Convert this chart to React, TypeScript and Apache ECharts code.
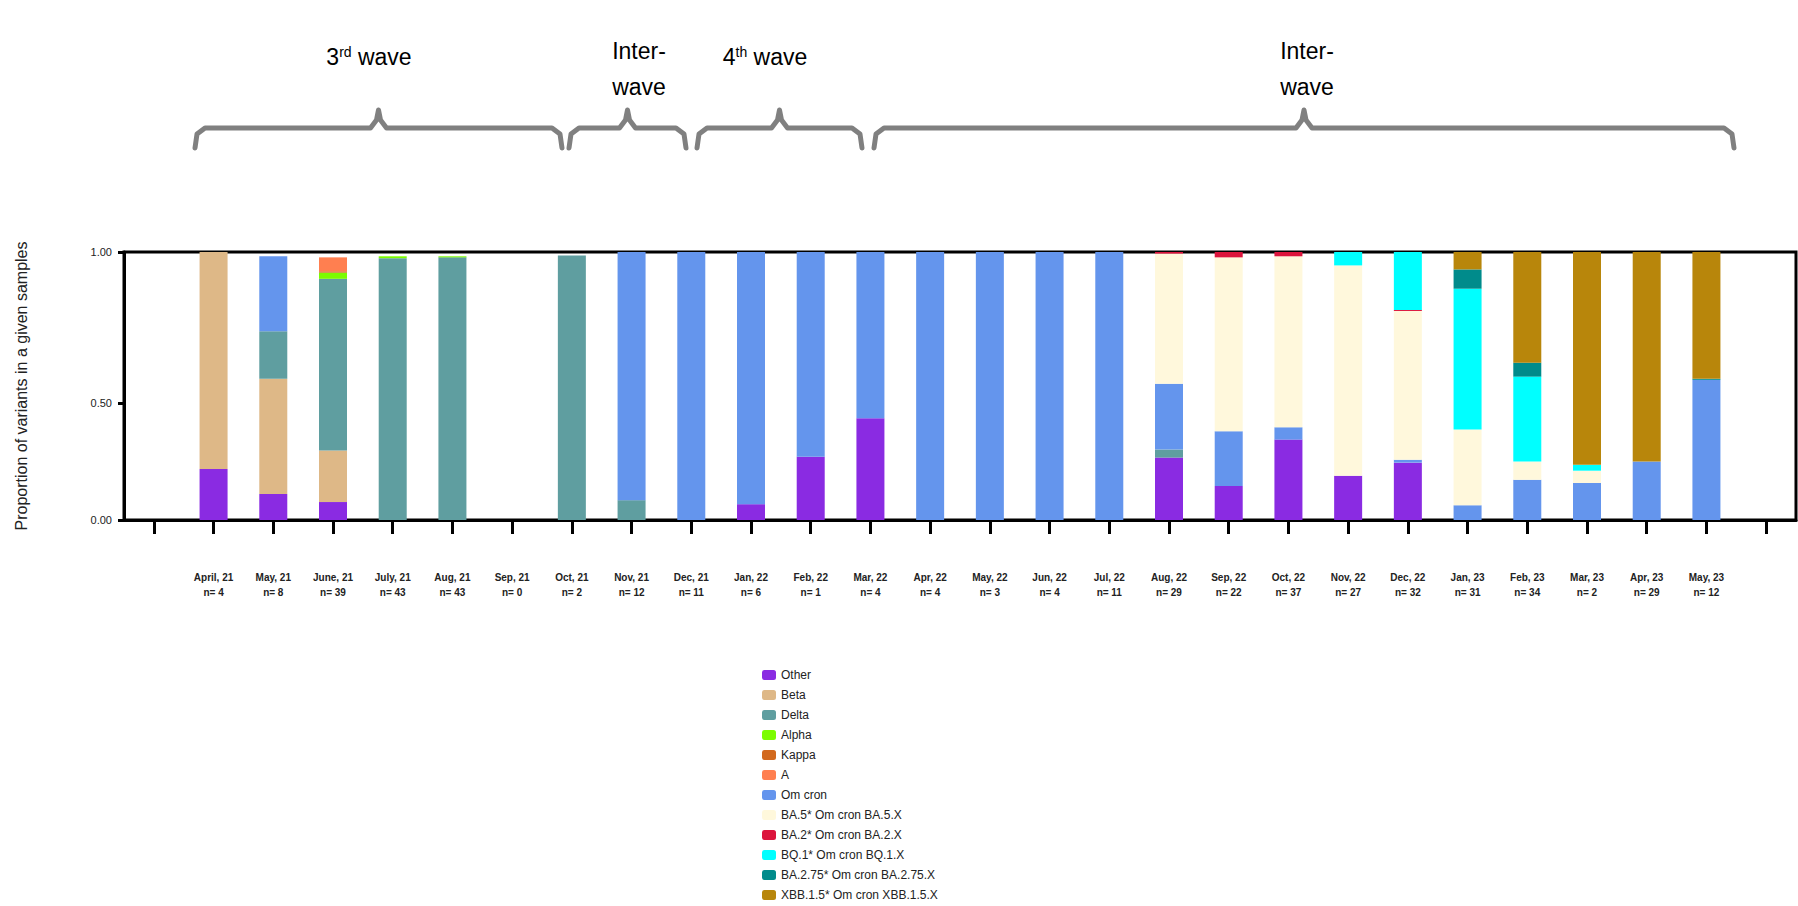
import React, { useEffect, useRef } from 'react'
import * as echarts from 'echarts'

const months = ['', 'April, 21', 'May, 21', 'June, 21', 'July, 21', 'Aug, 21', 'Sep, 21', 'Oct, 21', 'Nov, 21', 'Dec, 21', 'Jan, 22', 'Feb, 22', 'Mar, 22',
  'Apr, 22', 'May, 22', 'Jun, 22', 'Jul, 22', 'Aug, 22', 'Sep, 22', 'Oct, 22', 'Nov, 22', 'Dec, 22', 'Jan, 23', 'Feb, 23', 'Mar, 23', 'Apr, 23', 'May, 23', '']
const counts = ['', 'n= 4', 'n= 8', 'n= 39', 'n= 43', 'n= 43', 'n= 0', 'n= 2', 'n= 12', 'n= 11', 'n= 6', 'n= 1', 'n= 4',
  'n= 4', 'n= 3', 'n= 4', 'n= 11', 'n= 29', 'n= 22', 'n= 37', 'n= 27', 'n= 32', 'n= 31', 'n= 34', 'n= 2', 'n= 29', 'n= 12', '']

// share of each variant per month (stack order bottom -> top)
const other = [0, 0.19, 0.097, 0.067, 0, 0, 0, 0, 0, 0, 0.059, 0.236, 0.38, 0, 0, 0, 0, 0.233, 0.127, 0.30, 0.165, 0.214, 0, 0, 0, 0, 0, 0]
const beta = [0, 0.81, 0.43, 0.192, 0, 0, 0, 0, 0, 0, 0, 0, 0, 0, 0, 0, 0, 0, 0, 0, 0, 0, 0, 0, 0, 0, 0, 0]
const delta = [0, 0, 0.177, 0.641, 0.977, 0.98, 0, 0.987, 0.074, 0, 0, 0, 0, 0, 0, 0, 0, 0.03, 0, 0, 0, 0, 0, 0, 0, 0, 0, 0]
const alpha = [0, 0, 0, 0.023, 0.007, 0.004, 0, 0, 0, 0, 0, 0, 0, 0, 0, 0, 0, 0, 0, 0, 0, 0, 0, 0, 0, 0, 0, 0]
const kappa = [0, 0, 0, 0.005, 0, 0, 0, 0, 0, 0, 0, 0, 0, 0, 0, 0, 0, 0, 0, 0, 0, 0, 0, 0, 0, 0, 0, 0]
const variantA = [0, 0, 0, 0.052, 0, 0, 0, 0, 0, 0, 0, 0, 0, 0, 0, 0, 0, 0, 0, 0, 0, 0, 0, 0, 0, 0, 0, 0]
const omicron = [0, 0, 0.28, 0, 0, 0, 0, 0, 0.926, 1, 0.941, 0.764, 0.62, 1, 1, 1, 1, 0.245, 0.204, 0.046, 0, 0.011, 0.055, 0.15, 0.138, 0.218, 0.523, 0]
const ba5 = [0, 0, 0, 0, 0, 0, 0, 0, 0, 0, 0, 0, 0, 0, 0, 0, 0, 0.486, 0.649, 0.638, 0.785, 0.555, 0.283, 0.068, 0.046, 0, 0, 0]
const ba2 = [0, 0, 0, 0, 0, 0, 0, 0, 0, 0, 0, 0, 0, 0, 0, 0, 0, 0.006, 0.02, 0.016, 0, 0.004, 0, 0, 0, 0, 0, 0]
const bq1 = [0, 0, 0, 0, 0, 0, 0, 0, 0, 0, 0, 0, 0, 0, 0, 0, 0, 0, 0, 0, 0.05, 0.216, 0.525, 0.317, 0.022, 0, 0, 0]
const ba275 = [0, 0, 0, 0, 0, 0, 0, 0, 0, 0, 0, 0, 0, 0, 0, 0, 0, 0, 0, 0, 0, 0, 0.072, 0.052, 0, 0, 0.004, 0]
const xbb = [0, 0, 0, 0, 0, 0, 0, 0, 0, 0, 0, 0, 0, 0, 0, 0, 0, 0, 0, 0, 0, 0, 0.065, 0.413, 0.794, 0.782, 0.473, 0]

const seriesDefs: any[] = [
  ['Other', '#8A2BE2', other],
  ['Beta', '#DEB887', beta],
  ['Delta', '#5F9EA0', delta],
  ['Alpha', '#7CFC00', alpha],
  ['Kappa', '#D2691E', kappa],
  ['A', '#FF7F50', variantA],
  ['Om cron', '#6495ED', omicron],
  ['BA.5* Om cron BA.5.X', '#FFF8DC', ba5],
  ['BA.2* Om cron BA.2.X', '#DC143C', ba2],
  ['BQ.1* Om cron BQ.1.X', '#00FFFF', bq1],
  ['BA.2.75* Om cron BA.2.75.X', '#008B8B', ba275],
  ['XBB.1.5* Om cron XBB.1.5.X', '#B8860B', xbb],
]

// axis ticks are not evenly spaced in the figure
const yTickPos = [0, 0.437, 1]
const yTickText = ['0.00', '0.50', '1.00']

const brace = (x1: number, x2: number) => {
  const mid = (x1 + x2) / 2
  const y = 128
  return {
    type: 'polyline',
    shape: { points: [[x1, 148], [x1 + 2, 134], [x1 + 10, y], [mid - 8, y], [mid - 2, 120], [mid, 110], [mid + 2, 120], [mid + 8, y], [x2 - 10, y], [x2 - 2, 134], [x2, 148]] },
    style: { stroke: '#808080', lineWidth: 5, fill: 'none', lineJoin: 'round', lineCap: 'round' },
  }
}

const font = 'Arial, "Liberation Sans", sans-serif'
const titleText = (x: number, y: number, text: string) => ({
  type: 'text', x, y,
  style: { text, fill: '#000', font: `23px ${font}`, align: 'center', verticalAlign: 'middle', lineHeight: 36 },
})
const supText = (x: number, y: number, n: string, sup: string) => ({
  type: 'text', x, y,
  style: {
    text: `{a|${n}}{s|${sup}}{a| wave}`, align: 'center', verticalAlign: 'middle',
    rich: { a: { fontSize: 23, fontFamily: font, fill: '#000' }, s: { fontSize: 14, fontFamily: font, fill: '#000', verticalAlign: 'top', padding: [0, 0, 10, 0] } },
  },
})

const App = () => {
  const chart: any = useRef()
  useEffect(() => {
    document.body.style.margin = '0'
    const myChart = echarts.init(chart.current, null, { renderer: 'svg' })
    myChart.setOption({
      animation: false,
      grid: { left: 124, top: 252, width: 1672, height: 268, show: true, borderColor: '#000', borderWidth: 3 },
      legend: {
        orient: 'vertical', left: 757, top: 664, itemWidth: 14, itemHeight: 10, itemGap: 8,
        textStyle: { fontSize: 12, fontFamily: font, color: '#222' },
        data: seriesDefs.map((d) => d[0]),
      },
      xAxis: {
        type: 'category', data: months,
        axisLine: { lineStyle: { color: '#000', width: 3 } },
        axisTick: { show: true, interval: 0, alignWithLabel: true, length: 14, lineStyle: { color: '#000', width: 3 } },
        axisLabel: {
          interval: 0, margin: 50, lineHeight: 15, fontSize: 10, fontWeight: 'bold', fontFamily: '"Liberation Sans Narrow", Arial, sans-serif', color: '#222',
          formatter: (v: string, i: number) => (v ? `${v}\n${counts[i]}` : ''), align: 'center',
        },
      },
      yAxis: {
        type: 'value', min: 0, max: 1,
        name: 'Proportion of variants in a given samples', nameLocation: 'middle', nameGap: 95,
        nameTextStyle: { fontSize: 16, fontFamily: font, color: '#222' },
        splitLine: { show: false },
        axisLine: { show: true, lineStyle: { color: '#000', width: 3 } },
        axisTick: { show: true, length: 6, customValues: yTickPos, lineStyle: { color: '#000', width: 3 } },
        axisLabel: {
          customValues: yTickPos, margin: 12, fontSize: 11, fontFamily: '"Liberation Sans Narrow", Arial, sans-serif', color: '#222',
          formatter: (v: number) => yTickText[yTickPos.indexOf(v)] ?? '',
        },
      },
      series: seriesDefs.map((d) => ({
        name: d[0], type: 'bar', stack: 'all', barWidth: 28, itemStyle: { color: d[1] },
        data: d[2].map((v: number) => (v === 0 ? '-' : v)),
      })),
      graphic: [
        brace(195, 562), brace(569, 686), brace(697, 862), brace(874, 1734),
        supText(369, 57, '3', 'rd'),
        supText(765, 57, '4', 'th'),
        titleText(639, 69, 'Inter-\nwave'),
        titleText(1307, 69, 'Inter-\nwave'),
      ],
    })
    return () => {
      myChart.dispose()
    }
  }, [])

  return <div ref={chart} style={{ width: 1798, height: 906 }} />
}

export default App
